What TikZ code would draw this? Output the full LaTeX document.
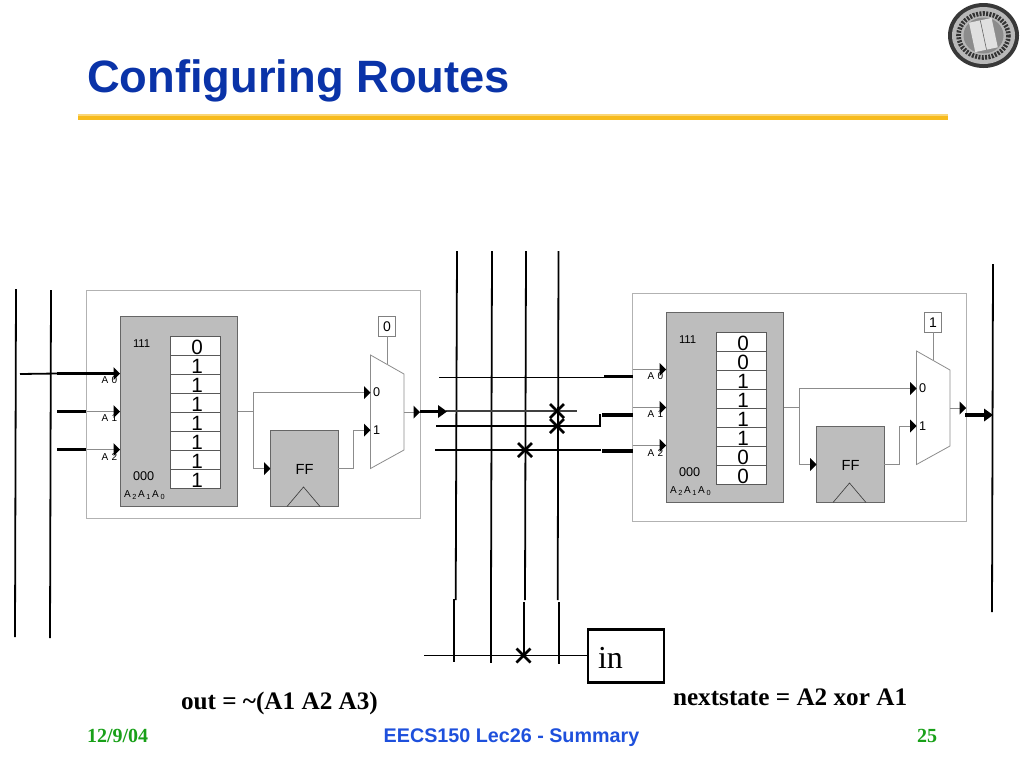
\documentclass[tikz,border=0pt]{standalone}
\usepackage{fontspec}
\setmainfont{Liberation Serif}
\setsansfont{Liberation Sans}
\usetikzlibrary{arrows.meta}
\definecolor{titleblue}{HTML}{0A33A8}
\definecolor{footblue}{HTML}{1E50DC}
\definecolor{footgreen}{HTML}{18A018}
\definecolor{rulegold}{HTML}{F7BB1D}
\definecolor{blockgray}{HTML}{BDBDBD}
\definecolor{wiregray}{HTML}{8C8C8C}
\tikzset{
  every node/.style={outer sep=0pt},
  wire/.style={draw=black, line width=1.35pt},
  stub/.style={draw=black, line width=2.4pt},
  cross/.style={draw=black, line width=2pt},
  gate/.style={draw=wiregray, line width=0.6pt},
  bit/.style={font=\sffamily\fontsize{15.5}{15.5}\selectfont, inner sep=0pt},
  small/.style={font=\sffamily\fontsize{7.5}{8}\selectfont, inner sep=0pt},
  mid/.style={font=\sffamily\fontsize{9.5}{10}\selectfont, inner sep=0pt},
}
\newcommand{\headtip}[1]{\fill (#1) ++(-6.5,-6.5) -- ++(6.5,6.5) -- ++(-6.5,6.5) -- cycle;}
\newcommand{\crossmark}[1]{\draw[cross] (#1) ++(-7,-7) -- ++(14,14) (#1) ++(-7,7) -- ++(14,-14);}
\newcommand{\addrsub}[1]{\,\raisebox{-1.2pt}{\fontsize{5.5}{6}\selectfont #1}\,}
\begin{document}
\begin{tikzpicture}[x=0.75pt, y=-0.75pt, line cap=butt, line join=miter]
    \useasboundingbox (0,0) rectangle (1024,768);
    \node[anchor=base west, inner sep=0pt, text=titleblue, font=\sffamily\bfseries\fontsize{34}{34}\selectfont] (title) at (87,92) {Configuring Routes};
    \fill[rulegold!60] (78,114) rectangle (948,115.5);
    \fill[rulegold] (78,115.5) rectangle (948,119.5);
    % seal
    \fill[black!78] (983.5,35.5) ellipse (35.5 and 32.5);
    \fill[black!28] (983.5,35.5) ellipse (31.5 and 28.5);
    \draw[black!80, line width=3.5pt, dash pattern=on 1.5pt off 1pt] (983.5,35.5) ellipse (25 and 22);
    \fill[black!45] (983.5,35.5) ellipse (20 and 18);
    \fill[black!12, rotate around={12:(983.5,35.5)}] (972,20) rectangle (995,50);
    \draw[black!65, rotate around={12:(983.5,35.5)}] (983.5,20) -- (983.5,50);
    % blocks
    \foreach \b/\dx/\dy/\ox/\oy/\sel/\bits in {L/0/0/0/0/0/{0,1,1,1,1,1,1,1},R/546/-4/546/3/1/{0,0,1,1,1,1,0,0}} {
        \begin{scope}[xshift=\dx*0.75pt]
        \draw[gray!60, line width=0.7pt] (86.5,290.5+\oy) rectangle (420.5,518+\oy);
        \end{scope}
        \begin{scope}[xshift=\dx*0.75pt, yshift=-\dy*0.75pt]
        \node[draw=gray!80!black, line width=0.5pt, fill=blockgray, minimum width=87.75pt, minimum height=142.5pt, inner sep=0pt, anchor=north west] (lut\b) at (120,316.5) {};
        \foreach \bitv [count=\i from 0] in \bits {
            \node[draw=gray!70!black, line width=0.6pt, fill=white, minimum width=37.5pt, minimum height=14.25pt, inner sep=0pt, anchor=north west] (cell\b\i) at (170.5,336+19*\i) {};
            \node[bit] (bit\b\i) at (197,347.5+19*\i) {\bitv};
        }
        \node[mid, anchor=west] (top\b) at (133,344) {\fontsize{8.5}{9}\selectfont 111};
        \node[mid, anchor=west] (bot\b) at (133,476) {000};
        \node[small, anchor=west] (addr\b) at (124,495) {A\addrsub{2}A\addrsub{1}A\addrsub{0}};
        % address inputs
        \foreach \y/\n [count=\i from 0] in {373.5/0,411.5/1,449.5/2} {
            \coordinate (in\b\n) at (86.5,\y);
            \coordinate (tip\b\n) at (lut\b.west |- in\b\n);
            \draw[gate] (in\b\n) -- (tip\b\n);
            \node[small, anchor=west] (lab\b\n) at (101.5,\y+7) {A\,\,\n};
            \headtip{tip\b\n}
        }
        % flip flop
        \node[draw=gray!80!black, line width=0.5pt, fill=blockgray, minimum width=50.5pt, minimum height=57.5pt, inner sep=0pt, anchor=north west] (ff\b) at (270.5,430) {};
        \node[font=\sffamily\fontsize{11}{11}\selectfont, inner sep=0pt] (fflab\b) at (304.5,469) {FF};
        \draw[gray!50!black, line width=0.5pt] (287,506.5) -- (303.5,487) -- (320,506.5);
        % mux
        \coordinate (muxa\b) at (370.5,355);
        \coordinate (muxb\b) at (404,374);
        \coordinate (muxc\b) at (404,450);
        \coordinate (muxd\b) at (370.5,468.5);
        \draw[gate, fill=white] (muxa\b) -- (muxb\b) -- (muxc\b) -- (muxd\b) -- cycle;
        \node[draw=gray, line width=0.6pt, fill=white, minimum width=13pt, minimum height=14.5pt, inner sep=0pt, font=\sffamily\fontsize{10.5}{11}\selectfont] (sel\b) at (387,326.5) {\sel};
        \coordinate (selend\b) at (387,363.5);
        \draw[gate] (sel\b) -- (selend\b);
        \node[mid, anchor=west] (mux0\b) at (373,392.5) {0};
        \node[mid, anchor=west] (mux1\b) at (373,430) {1};
        % internal wires
        \coordinate (fork\b) at (253.5,411.5);
        \coordinate (zero\b) at (370.5,392.5);
        \coordinate (one\b) at (370.5,430);
        \coordinate (ckin\b) at (270.5,468.5);
        \coordinate (ffout\b) at (337.5,468.5);
        \coordinate (lutout\b) at (237.5,411.5);
        \coordinate (mout\b) at (404,412);
        \coordinate (mtip\b) at (420,412);
        \draw[gate] (lutout\b) -- (fork\b) |- (zero\b);
        \draw[gate] (fork\b) |- (ckin\b);
        \draw[gate] (ffout\b) -- (353.5,468.5) |- (one\b);
        \draw[gate] (mout\b) -- (mtip\b);
        \headtip{zero\b}
        \headtip{one\b}
        \headtip{ckin\b}
        \headtip{mtip\b}
        \end{scope}
    }
    % left tracks
    \coordinate (t1a) at (16,289); \coordinate (t1b) at (15,637);
    \coordinate (t2a) at (51,290); \coordinate (t2b) at (50,638);
    \draw[wire] (t1a) -- (t1b);
    \draw[wire] (t2a) -- (t2b);
    \coordinate (leftin) at (20,374);
    \draw[wire] (leftin) -- (57,373.5);
    \draw[stub] (57,373.5) -- (114,373.5);
    \draw[stub] (57,411.5) -- (86,411.5);
    \draw[stub] (57,449.5) -- (86,449.5);
    % middle tracks
    \foreach \n/\xa/\xb/\xc/\ya/\yb in {1/457/455.7/454.3/599/662,2/492/491/491/598/663,3/526/525/523.7/602/656,4/558.5/557.7/559/602/664} {
        \coordinate (va\n) at (\xa,251);
        \coordinate (vb\n) at (\xb,600);
        \coordinate (vc\n) at (\xc,\ya);
        \coordinate (vd\n) at (\xc,\yb);
        \draw[wire] (va\n) -- (vb\n);
        \draw[wire] (vc\n) -- (vd\n);
    }
    % horizontal tracks
    \coordinate (ha) at (439,377.5); \coordinate (hb) at (604,377.5);
    \coordinate (hc) at (446,411); \coordinate (hd) at (577,411);
    \coordinate (he) at (436,426); \coordinate (hf) at (600,426); \coordinate (hg) at (600,414);
    \coordinate (hh) at (435,450); \coordinate (hi) at (601,450);
    \draw[wire] (ha) -- (hb);
    \draw[wire, black!75] (hc) -- (hd);
    \draw[wire] (he) -- (hf) -- (hg);
    \draw[wire] (hh) -- (hi);
    \draw[stub] (604,376.7) -- (633,376.7);
    \draw[stub] (602,415) -- (633,415);
    \draw[stub] (602,451) -- (633,451);
    \crossmark{557,411}
    \crossmark{557,426}
    \crossmark{525,450}
    % outputs
    \draw[stub] (420,411.5) -- (440,411.5);
    \fill (447,411.5) -- (438,405) -- (438,418) -- cycle;
    \coordinate (rtrack) at (993,264); \coordinate (rtrackb) at (992,612);
    \draw[wire] (rtrack) -- (rtrackb);
    \draw[stub] (965,415) -- (985,415);
    \fill (993,415) -- (984,408.5) -- (984,421.5) -- cycle;
    % in box
    \node[draw=black, line width=2pt, minimum width=57pt, minimum height=39.5pt, inner sep=0pt, anchor=north west] (inbox) at (588,629.5) {};
    \node[anchor=base west, inner sep=0pt, font=\fontsize{24}{24}\selectfont] (intext) at (598,668) {in};
    \coordinate (inleft) at (424,655.5);
    \draw[wire] (inleft) -- (inbox.west |- inleft);
    \crossmark{523.5,655.5}
    % equations
    \node[anchor=base west, inner sep=0pt, font=\bfseries\fontsize{18.9}{19}\selectfont] (outeq) at (181,709) {out = \textasciitilde(A1 A2 A3)};
    \node[anchor=base west, inner sep=0pt, font=\bfseries\fontsize{18.9}{19}\selectfont] (nexteq) at (673,705) {nextstate = A2 xor A1};
    % footer
    \node[anchor=base west, inner sep=0pt, text=footgreen, font=\bfseries\fontsize{15}{15}\selectfont] (date) at (87,742) {12/9/04};
    \node[anchor=base, inner sep=0pt, text=footblue, font=\sffamily\bfseries\fontsize{14.8}{15}\selectfont] (foot) at (511.5,742) {EECS150 Lec26 - Summary};
    \node[anchor=base west, inner sep=0pt, text=footgreen, font=\bfseries\fontsize{15}{15}\selectfont] (page) at (917,742) {25};
\end{tikzpicture}
\end{document}
